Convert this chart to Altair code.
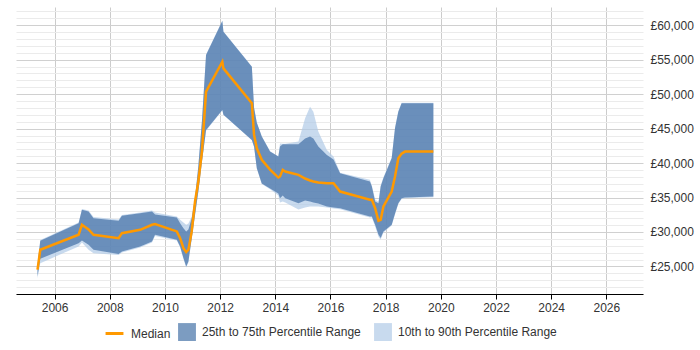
import altair as alt
import pandas as pd

years = [2005.38, 2005.48, 2006.87, 2006.99, 2007.23, 2007.41, 2008.32, 2008.44, 2009.10, 2009.53,
         2009.64, 2010.43, 2010.55, 2010.67, 2010.77, 2010.85, 2010.97, 2011.09, 2011.21, 2011.34,
         2011.49, 2012.08, 2012.12, 2013.15, 2013.23, 2013.33, 2013.51, 2013.81, 2014.11, 2014.17,
         2014.27, 2014.36, 2014.84, 2015.08, 2015.26, 2015.38, 2015.56, 2015.87, 2016.11, 2016.35,
         2017.43, 2017.50, 2017.62, 2017.74, 2017.82, 2017.92, 2018.22, 2018.34, 2018.46, 2018.58,
         2018.70, 2019.73]
median = [24530, 27420, 29600, 31050, 30370, 29600, 29110, 29830, 30320, 31050,
          31160, 30080, 29110, 27660, 27080, 27420, 30080, 34420, 37320, 41670,
          50360, 54710, 53740, 48670, 44090, 42150, 40470, 39060, 37900, 38050,
          39020, 38770, 38290, 37760, 37470, 37320, 37180, 37070, 37070, 35870,
          34670, 34670, 33450, 31630, 31770, 33700, 35870, 38050, 40700, 41380,
          41670, 41670]
p25 = [23560, 26120, 28380, 28770, 28150, 27420, 26790, 27180, 27900, 28630,
       29600, 28870, 27900, 26210, 25000, 25730, 29110, 32500, 35870, 40220,
       44810, 47710, 47030, 43360, 42390, 39250, 37030, 36310, 35580, 34900,
       35290, 34900, 34180, 34570, 34420, 34280, 34130, 33700, 33550, 33450,
       32250, 32250, 31050, 29640, 29110, 30080, 31050, 32680, 34180, 34900,
       35000, 35150]
p75 = [25150, 28730, 31280, 33220, 32970, 32000, 31630, 32350, 32730, 32970,
       32540, 32100, 31280, 30550, 30080, 30370, 31960, 34900, 39490, 46020,
       55680, 60610, 59060, 53990, 48000, 45870, 43840, 41670, 40940, 42390,
       42730, 42730, 42730, 43550, 43840, 43550, 42390, 41190, 40510, 38520,
       37320, 36600, 34420, 34180, 36600, 37800, 40700, 45040, 47460, 48670,
       48670, 48670]
p10 = [23270, 25480, 27900, 28480, 27420, 26930, 26670, 27030, 27760, 28480,
       29420, 28770, 27760, 26090, 24860, 25580, 28920, 32390, 35750, 40100,
       44700, 47650, 47000, 43300, 42300, 39200, 36950, 36200, 35300, 34280,
       34420, 34280, 33260, 33550, 33700, 33700, 33700, 33550, 33410, 33300,
       32100, 32100, 30800, 29350, 28920, 29930, 30950, 32550, 34050, 34800,
       34900, 35050]
p90 = [25300, 28840, 31380, 33340, 33120, 32180, 31820, 32470, 32830, 33120,
       32830, 32250, 31770, 31380, 31050, 31240, 32250, 35000, 39600, 46100,
       55750, 60700, 59100, 54000, 48100, 45900, 43900, 41700, 41000, 42830,
       42800, 42800, 43120, 46490, 48190, 47460, 44570, 41910, 40940, 38600,
       37570, 36750, 34710, 34400, 36750, 37950, 40800, 45150, 47550, 48750,
       48750, 48750]

x_ticks = list(range(2006, 2027, 2))
y_ticks = list(range(21000, 63000, 1000))
line_labels = ["Median"]
line_colors = ["#ff9900"]
band_labels = ["25th to 75th Percentile Range", "10th to 90th Percentile Range"]
band_colors = ["#4572a7", "#b0cae7"]

df = pd.DataFrame({"year": years, "median": median, "p25": p25, "p75": p75, "p10": p10, "p90": p90})

legend_common = dict(title=None, orient="none", direction="horizontal", symbolSize=320,
                     labelFontSize=12, labelFont="Liberation Sans", labelColor="#333333",
                     columnPadding=13, labelOffset=6, legendY=316, padding=0)
stroke_legend = alt.Legend(symbolType="stroke", symbolStrokeWidth=3, symbolOpacity=1,
                           legendX=88, **legend_common)
fill_legend = alt.Legend(symbolType="square", symbolStrokeWidth=0, symbolOpacity=0.7,
                         legendX=162, **legend_common)

x_enc = alt.X("year:Q", scale=alt.Scale(domain=[2004.6, 2027.33], nice=False, zero=False),
              axis=alt.Axis(values=x_ticks, format="d", title=None, grid=True, gridColor="#cccccc",
                            domainColor="#000000", tickColor="#000000", tickSize=5,
                            labelFontSize=12, labelColor="#333333", labelFont="Liberation Sans",
                            labelPadding=3))
y_scale = alt.Scale(domain=[21000, 62650], nice=False, zero=False)
y_axis = alt.Axis(orient="right", values=y_ticks, title=None, domain=False, ticks=False,
                  labelOverlap=False,
                  labelExpr="datum.value % 5000 === 0 ? '£' + format(datum.value, ',') : ''",
                  gridColor={"condition": {"test": "datum.value % 5000 === 0", "value": "#d0d0d0"},
                             "value": "#ebebeb"},
                  labelFontSize=12, labelColor="#333333", labelFont="Liberation Sans", labelPadding=7)

fill_scale = alt.Scale(domain=band_labels, range=band_colors)
base = alt.Chart(df)
light = base.transform_calculate(series="'10th to 90th Percentile Range'").mark_area(opacity=0.7).encode(
    x=x_enc,
    y=alt.Y("p10:Q", scale=y_scale, axis=y_axis),
    y2="p90:Q",
    fill=alt.Fill("series:N", scale=fill_scale, legend=fill_legend),
)
dark = base.transform_calculate(series="'25th to 75th Percentile Range'").mark_area(opacity=0.72).encode(
    x=x_enc,
    y=alt.Y("p25:Q", scale=y_scale, axis=y_axis),
    y2="p75:Q",
    fill=alt.Fill("series:N", scale=fill_scale, legend=fill_legend),
)
line = base.transform_calculate(series="'Median'").mark_line(strokeWidth=2.5).encode(
    x=x_enc,
    y=alt.Y("median:Q", scale=y_scale, axis=y_axis),
    stroke=alt.Stroke("series:N", scale=alt.Scale(domain=line_labels, range=line_colors),
                      legend=stroke_legend),
)

chart = alt.layer(light, dark, line).properties(
    width=627, height=287,
    padding={"left": 16, "top": 5, "right": 5, "bottom": 5},
).configure_view(strokeWidth=0)

chart.save("out.html", embed_options={"renderer": "svg", "actions": False})
